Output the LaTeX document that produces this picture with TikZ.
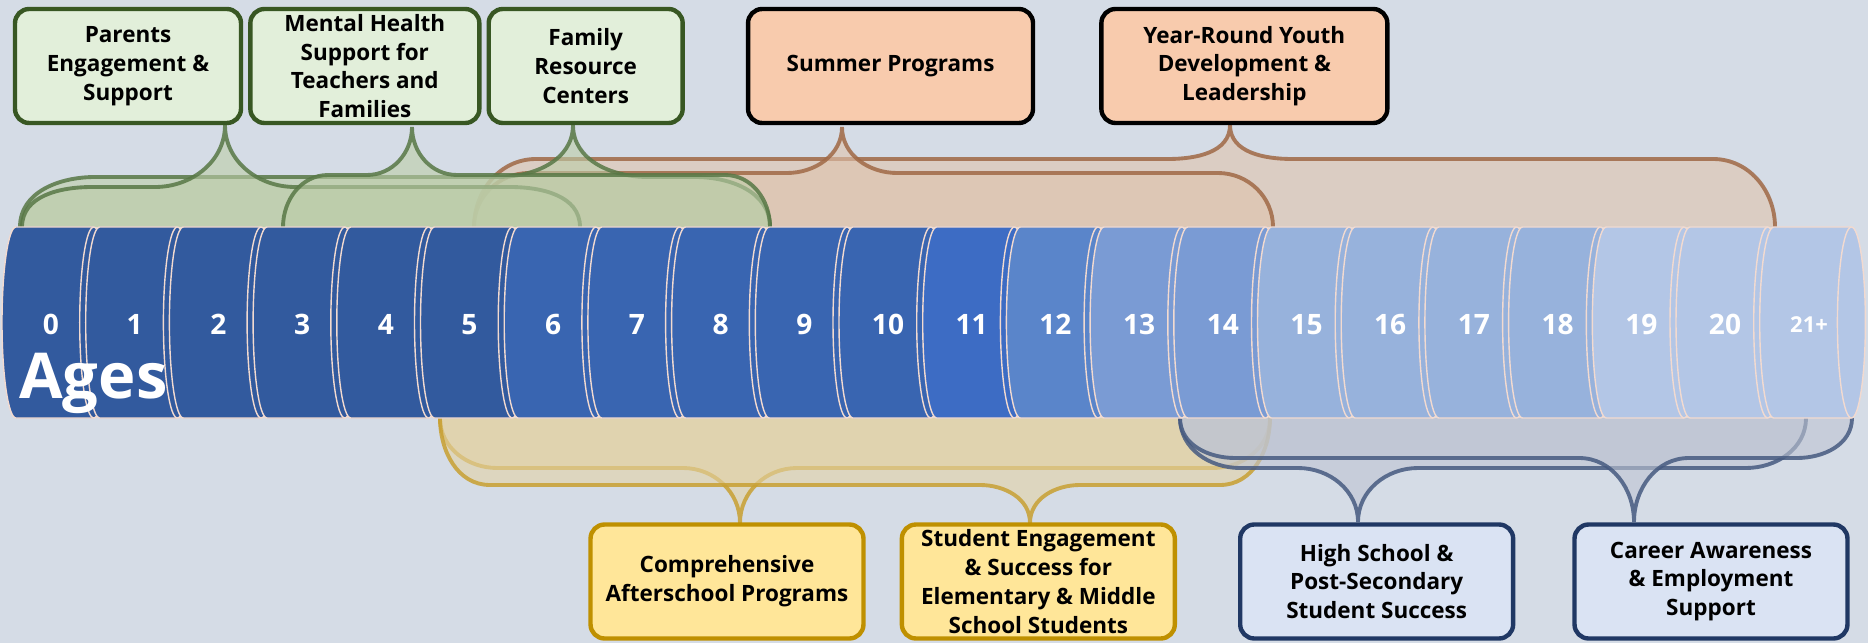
\documentclass[tikz,border=0pt]{standalone}
\usepackage{fontspec}
\setmainfont{Open Sans}
\usepackage{tikz}
\usetikzlibrary{positioning}

\definecolor{bgcol}{RGB}{213,220,230}
\definecolor{ageA}{RGB}{50,90,158}
\definecolor{ageB}{RGB}{57,101,177}
\definecolor{ageC}{RGB}{61,108,196}
\definecolor{ageD}{RGB}{90,133,202}
\definecolor{ageE}{RGB}{122,155,212}
\definecolor{ageF}{RGB}{151,178,220}
\definecolor{ageG}{RGB}{179,198,230}
\definecolor{segline}{RGB}{242,218,208}
\definecolor{grnline}{RGB}{56,87,35}
\definecolor{grnfill}{RGB}{226,239,218}
\definecolor{peachfill}{RGB}{248,203,173}
\definecolor{goldline}{RGB}{191,144,0}
\definecolor{goldfill}{RGB}{255,230,153}
\definecolor{navyline}{RGB}{32,56,100}
\definecolor{navyfill}{RGB}{218,227,243}
\definecolor{grnbr}{RGB}{88,120,70}
\definecolor{grnbrfill}{RGB}{188,205,168}
\definecolor{brnbr}{RGB}{160,105,70}
\definecolor{brnbrfill}{RGB}{223,195,173}
\definecolor{gldbr}{RGB}{200,160,50}
\definecolor{gldbrfill}{RGB}{227,210,165}
\definecolor{nvybr}{RGB}{70,90,128}
\definecolor{nvybrfill}{RGB}{190,196,210}

\tikzstyle{progbox} = [rectangle, rounded corners=8pt, line width=2.5pt, inner sep=0pt, align=center, text=black, font=\fontsize{12.8}{16.4}\selectfont\bfseries, minimum height=2.28cm]
\tikzstyle{greenbox} = [progbox, draw=grnline, fill=grnfill]
\tikzstyle{peachbox} = [progbox, draw=black, fill=peachfill]
\tikzstyle{goldbox} = [progbox, draw=goldline, fill=goldfill, minimum width=5.46cm]
\tikzstyle{navybox} = [progbox, draw=navyline, fill=navyfill, minimum width=5.46cm]
\tikzstyle{seg} = [draw=segline, line width=0.8pt]
\tikzstyle{agenum} = [text=white, font=\fontsize{16}{16}\selectfont\bfseries, anchor=base, inner sep=0pt]
\tikzstyle{grnbrace} = [draw=grnbr, fill=grnbrfill, line width=2.2pt]
\tikzstyle{brnbrace} = [draw=brnbr, fill=brnbrfill, line width=2.2pt]
\tikzstyle{gldbrace} = [draw=gldbr, fill=gldbrfill, line width=2.2pt]
\tikzstyle{nvybrace} = [draw=nvybr, fill=nvybrfill, line width=2.2pt]

% brace over the ages: style, left, right, level, tip x, tip y, bend
\newcommand{\upbrace}[7]{%
  \fill[#1, draw=none, fill opacity=0.6] (#2,416) to[out=90,in=180] (#2+#7,#4) -- (#5-#7,#4) to[out=0,in=-90] (#5,#6) to[out=-90,in=180] (#5+#7,#4) -- (#3-#7,#4) to[out=0,in=90] (#3,416) -- cycle;
  \draw[#1, fill=none, draw opacity=0.85] (#2,416) to[out=90,in=180] (#2+#7,#4) -- (#5-#7,#4) to[out=0,in=-90] (#5,#6) to[out=-90,in=180] (#5+#7,#4) -- (#3-#7,#4) to[out=0,in=90] (#3,416);
}
% brace under the ages
\newcommand{\downbrace}[7]{%
  \fill[#1, draw=none, fill opacity=0.6] (#2,225) to[out=-90,in=180] (#2+#7,#4) -- (#5-#7,#4) to[out=0,in=90] (#5,#6) to[out=90,in=180] (#5+#7,#4) -- (#3-#7,#4) to[out=0,in=-90] (#3,225) -- cycle;
  \draw[#1, fill=none, draw opacity=0.85] (#2,225) to[out=-90,in=180] (#2+#7,#4) -- (#5-#7,#4) to[out=0,in=90] (#5,#6) to[out=90,in=180] (#5+#7,#4) -- (#3-#7,#4) to[out=0,in=-90] (#3,225);
}

\begin{document}
\begin{tikzpicture}[x=0.02cm, y=0.02cm, node distance=0.1cm]
    \useasboundingbox (0,0) rectangle (1868,643);
    \fill[bgcol] (0,0) rectangle (1868,643);

    % Braces above the ages
    \upbrace{brnbrace}{474}{1775}{484}{1230}{518}{62}
    \upbrace{brnbrace}{474}{1273}{470}{842}{516}{55}
    \upbrace{grnbrace}{20}{770}{466}{573}{518}{75}
    \upbrace{grnbrace}{22}{580}{456}{225}{518}{70}
    \upbrace{grnbrace}{283}{770}{468}{412}{516}{45}

    % Braces below the ages
    \downbrace{gldbrace}{440}{1270}{175}{740}{120}{57}
    \downbrace{gldbrace}{440}{1270}{158}{1030}{120}{50}
    \downbrace{nvybrace}{1180}{1806}{175}{1358}{121}{60}
    \downbrace{nvybrace}{1180}{1852}{185}{1634}{121}{55}

    % Age cylinder
    \foreach \i/\c in {0/ageA,1/ageA,2/ageA,3/ageA,4/ageA,5/ageA,6/ageB,7/ageB,8/ageB,9/ageB,10/ageB,11/ageC,12/ageD,13/ageE,14/ageE,15/ageF,16/ageF,17/ageF,18/ageF,19/ageG,20/ageG,21/ageG} {
        \pgfmathsetmacro{\segl}{16+83.7*\i}
        \pgfmathsetmacro{\segr}{\segl+77.7}
        \filldraw[seg, fill=\c] (\segl,416) -- (\segr,416) arc[start angle=90, end angle=-90, x radius=14, y radius=95.5] -- (\segl,225) arc[start angle=270, end angle=90, x radius=14, y radius=95.5] -- cycle;
        \draw[seg] (\segr,416) arc[start angle=90, end angle=270, x radius=14, y radius=95.5];
    }
    \foreach \i in {0,...,20} {
        \node (age\i) [agenum] at ({51+83.7*\i},309) {\i};
    }
    \node (age21) [agenum, font=\fontsize{12.5}{12.5}\selectfont\bfseries] at (1809,311) {21+};
    \node (ages) [anchor=base west, inner sep=0pt, text=white, font=\fontsize{36}{36}\selectfont\bfseries] at (19,245) {Ages};

    % Programs for families
    \node (parents) [greenbox, minimum width=4.52cm] at (128,577) {Parents\\Engagement \&\\Support};
    \node (mental) [greenbox, minimum width=4.58cm, right=0.1cm of parents] {Mental Health\\Support for\\Teachers and\\Families};
    \node (family) [greenbox, minimum width=3.88cm, right=0.1cm of mental] {Family\\Resource\\Centers};

    % Youth programs
    \node (summer) [peachbox, minimum width=5.7cm, right=1.22cm of family] {Summer Programs};
    \node (youth) [peachbox, minimum width=5.72cm, right=1.28cm of summer] {Year-Round Youth\\Development \&\\Leadership};

    % Student programs
    \node (afterschool) [goldbox] at (727,61.5) {Comprehensive\\Afterschool Programs};
    \node (student) [goldbox, right=0.68cm of afterschool] {Student Engagement\\\& Success for\\Elementary \& Middle\\School Students};
    \node (highschool) [navybox, right=1.22cm of student] {High School \&\\Post-Secondary\\Student Success};
    \node (career) [navybox, right=1.14cm of highschool] {Career Awareness\\\& Employment\\Support};
\end{tikzpicture}
\end{document}
